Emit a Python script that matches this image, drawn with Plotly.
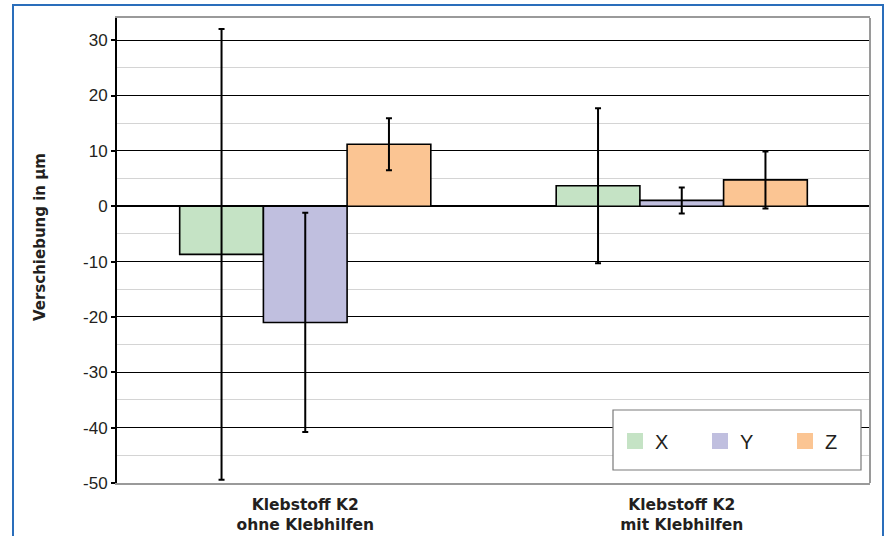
import plotly.graph_objects as go

categories = ["Klebstoff K2<br>ohne Klebhilfen", "Klebstoff K2<br>mit Klebhilfen"]
series_names = ["X", "Y", "Z"]
x_vals = [-8.7, 3.7]
y_vals = [-21.0, 1.05]
z_vals = [11.2, 4.75]
x_err = [40.7, 14.0]
y_err = [19.8, 2.35]
z_err = [4.7, 5.15]
colors = ["#c5e3c5", "#c0bfdf", "#fbc593"]
y_ticks = [-50, -40, -30, -20, -10, 0, 10, 20, 30]
y_tick_labels = ["-50", "-40", "-30", "-20", "-10", "0", "10", "20", "30"]

fig = go.Figure()
for name, vals, errs, col in zip(series_names, [x_vals, y_vals, z_vals], [x_err, y_err, z_err], colors):
    fig.add_trace(go.Bar(
        x=categories, y=vals, name=name, showlegend=False,
        marker=dict(color=col, line=dict(color="black", width=1.6)),
        error_y=dict(type="data", array=errs, symmetric=True, color="black", thickness=2, width=3),
    ))
for name, col in zip(series_names, colors):
    fig.add_trace(go.Scatter(
        x=[None], y=[None], mode="markers", name=name,
        marker=dict(symbol="square", size=16, color=col),
    ))

L, R, T, B = 117, 21, 18, 53
W, H = 891, 536
pw, ph = W - L - R, H - T - B

def px_x(p):
    return (p - L) / pw

def px_y(p):
    return (H - B - p) / ph

fig.update_layout(
    width=W, height=H,
    margin=dict(l=L, r=R, t=T, b=B, autoexpand=False),
    paper_bgcolor="white", plot_bgcolor="white",
    barmode="group", bargap=0.333, bargroupgap=0,
    font=dict(family="Liberation Sans, Arial", color="#231f20"),
    legend=dict(
        orientation="h", font=dict(size=20, family="Liberation Sans, Arial", color="#231f20"),
        bgcolor="rgba(0,0,0,0)", x=px_x(615), xanchor="left", y=px_y(441), yanchor="middle",
        entrywidth=40, itemclick=False,
    ),
    xaxis=dict(
        automargin=False,
        showline=True, linecolor="#9a9a9a", linewidth=2, mirror=True,
        showgrid=False, ticks="", ticklabelstandoff=6,
        tickfont=dict(family="DejaVu Sans", size=15.5, color="#231f20", weight="bold"),
    ),
    yaxis=dict(
        automargin=False,
        range=[-50, 34], tickvals=y_ticks, ticktext=y_tick_labels,
        showgrid=True, gridcolor="black", gridwidth=1.3,
        zeroline=True, zerolinecolor="black", zerolinewidth=1.6,
        showline=True, linecolor="black", linewidth=2,
        ticks="outside", ticklen=4, tickcolor="black", tickwidth=1.5,
        tickfont=dict(size=17, color="#231f20"),
        minor=dict(dtick=5, tick0=0, showgrid=True, gridcolor="#d4d4d4", gridwidth=1),
    ),
    annotations=[dict(
        text="<b>Verschiebung in µm</b>", textangle=-90, xref="paper", yref="paper",
        x=px_x(40), y=px_y(237), xanchor="center", yanchor="middle", showarrow=False,
        font=dict(family="DejaVu Sans", size=15, color="#231f20"),
    )],
    shapes=[
        dict(type="line", xref="paper", yref="paper", x0=1, x1=1, y0=0, y1=1,
             line=dict(color="#9a9a9a", width=2)),
        dict(type="rect", xref="paper", yref="paper", layer="above",
             x0=px_x(613), x1=px_x(861), y0=px_y(470), y1=px_y(410),
             fillcolor="white", line=dict(color="#7a7a7a", width=1.2)),
        dict(type="path", xref="paper", yref="paper",
             path=f"M {px_x(13)} {px_y(545)} L {px_x(13)} {px_y(5)} L {px_x(883)} {px_y(5)} L {px_x(883)} {px_y(545)}",
             line=dict(color="#2a6ebb", width=2)),
    ],
)

fig.write_html("out.html", config={"displayModeBar": False},
               post_script="document.body.style.margin='0';")
